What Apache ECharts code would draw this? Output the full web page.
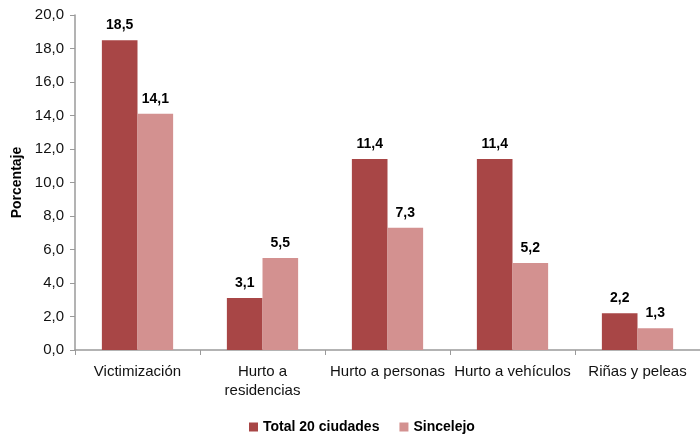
<!DOCTYPE html>
<html>
<head>
<meta charset="utf-8">
<script src="https://cdn.jsdelivr.net/npm/echarts@6/dist/echarts.min.js"></script>
<style>
  html, body { margin: 0; padding: 0; background: #fff; }
  #chart { width: 700px; height: 435px; }
</style>
</head>
<body>
<div id="chart"></div>
<script>
const categories = ['Victimización', 'Hurto a\nresidencias', 'Hurto a personas', 'Hurto a vehículos', 'Riñas y peleas'];
const total20 = [18.5, 3.1, 11.4, 11.4, 2.2];
const sincelejo = [14.1, 5.5, 7.3, 5.2, 1.3];

const fmt = v => v.toFixed(1).replace('.', ',');
const font = 'Liberation Sans, Arial, sans-serif';

const myChart = echarts.init(document.getElementById('chart'));
const option = {
  animation: false,
  textStyle: { fontFamily: font },
  grid: { left: 75, right: -8, top: 15, bottom: 85 },
  legend: {
    top: 415,
    left: 244,
    itemWidth: 9,
    itemHeight: 9,
    itemGap: 20,
    itemTextGap: 4,
    icon: 'rect',
    textStyle: { fontFamily: font, fontSize: 14, fontWeight: 'bold', color: '#000' },
    data: ['Total 20 ciudades', 'Sincelejo']
  },
  xAxis: {
    type: 'category',
    data: categories,
    axisLine: { lineStyle: { color: '#9a9a9a', width: 1.5 } },
    axisTick: { show: true, length: 5, lineStyle: { color: '#9a9a9a' } },
    axisLabel: { color: '#111', fontSize: 15, margin: 12, lineHeight: 19, interval: 0 }
  },
  yAxis: {
    type: 'value',
    min: 0,
    max: 20,
    interval: 2,
    name: 'Porcentaje',
    nameLocation: 'middle',
    nameGap: 50,
    nameTextStyle: { fontFamily: font, fontSize: 14, fontWeight: 'bold', color: '#000' },
    splitLine: { show: false },
    axisLine: { show: true, lineStyle: { color: '#9a9a9a', width: 1.5 } },
    axisTick: { show: true, length: 5, lineStyle: { color: '#9a9a9a' } },
    axisLabel: { color: '#111', fontSize: 15, margin: 11, formatter: v => fmt(v) }
  },
  series: [
    {
      name: 'Total 20 ciudades',
      type: 'bar',
      data: total20,
      barGap: '0%',
      barCategoryGap: '43%',
      itemStyle: { color: '#A84646' },
      label: {
        show: true, position: 'top', distance: 8,
        fontSize: 14, fontWeight: 'bold', color: '#000',
        formatter: p => fmt(p.value)
      }
    },
    {
      name: 'Sincelejo',
      type: 'bar',
      data: sincelejo,
      itemStyle: { color: '#D39190' },
      label: {
        show: true, position: 'top', distance: 8,
        fontSize: 14, fontWeight: 'bold', color: '#000',
        formatter: p => fmt(p.value)
      }
    }
  ]
};
myChart.setOption(option);
</script>
</body>
</html>
